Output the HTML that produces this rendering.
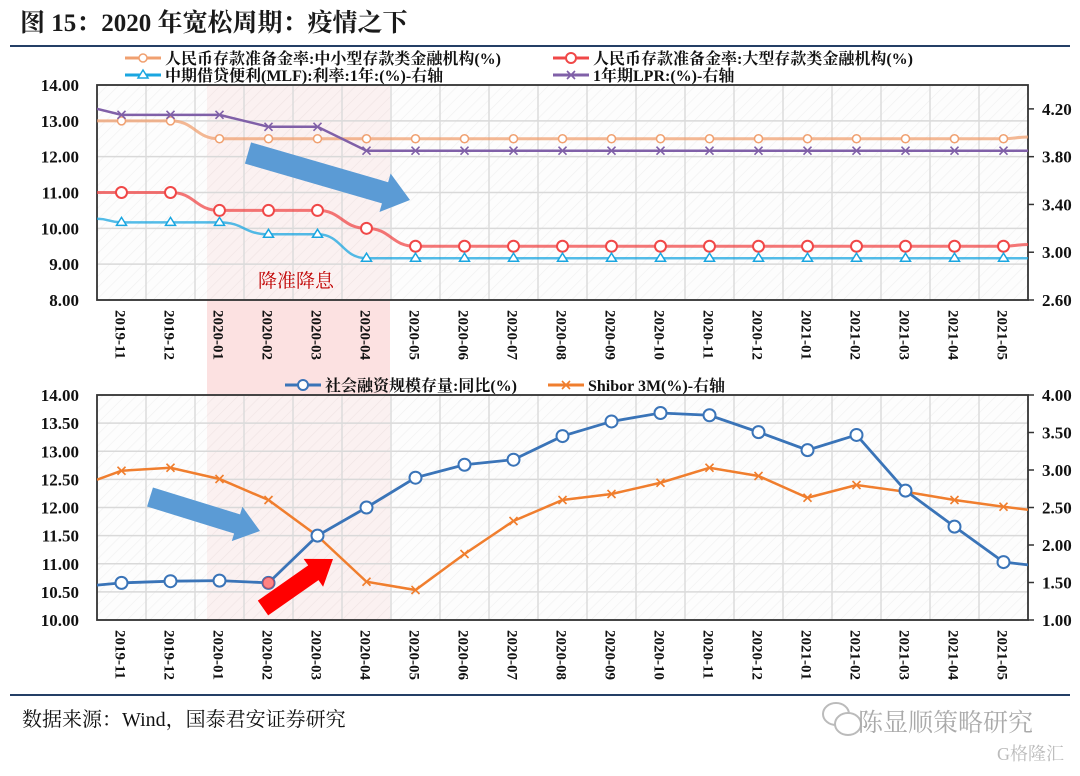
<!DOCTYPE html>
<html><head><meta charset="utf-8"><style>
body{margin:0;background:#fff;width:1080px;height:771px;overflow:hidden;font-family:"Liberation Serif","Noto Serif CJK SC",serif;}
svg text{font-family:"Liberation Serif","Noto Serif CJK SC",serif;}
</style></head><body>
<svg id="s" width="1080" height="771" viewBox="0 0 1080 771">
<defs>
<pattern id="hatch" width="8" height="8" patternUnits="userSpaceOnUse" patternTransform="rotate(45)">
<rect width="8" height="8" fill="#fbfbfb"/><line x1="0" y1="0" x2="0" y2="8" stroke="#e6e6e6" stroke-width="1.2"/>
</pattern>
<clipPath id="c1"><rect x="97" y="85" width="931" height="215"/></clipPath>
<clipPath id="c2"><rect x="97" y="395" width="931" height="225"/></clipPath>
</defs>
<text x="20" y="31" font-size="25" font-weight="bold" fill="#1a1a1a">图 15：2020 年宽松周期：疫情之下</text>
<line x1="10" y1="46" x2="1070" y2="46" stroke="#243f66" stroke-width="2"/>
<line x1="10" y1="695" x2="1070" y2="695" stroke="#243f66" stroke-width="2"/>
<text x="22" y="726" font-size="20" fill="#111">数据来源：Wind，国泰君安证券研究</text>
<g fill="#aaa">
<ellipse cx="836" cy="714" rx="13" ry="11" fill="none" stroke="#bbb" stroke-width="2"/>
<ellipse cx="848" cy="724" rx="13" ry="11" fill="#fff" stroke="#bbb" stroke-width="2"/>
<text x="858" y="731" font-size="25" font-family="Liberation Sans, Noto Sans CJK SC, sans-serif" fill="#aaa">陈显顺策略研究</text>
<text x="997" y="760" font-size="18" font-family="Liberation Sans, Noto Sans CJK SC, sans-serif" fill="#bbb">G格隆汇</text>
</g>
<g id="g1"></g><g id="g2"></g>
</svg>
<script>
const months=["2019-11","2019-12","2020-01","2020-02","2020-03","2020-04","2020-05","2020-06","2020-07","2020-08","2020-09","2020-10","2020-11","2020-12","2021-01","2021-02","2021-03","2021-04","2021-05"];
// top chart
const rrrSmall=[13.0,13.0,12.5,12.5,12.5,12.5,12.5,12.5,12.5,12.5,12.5,12.5,12.5,12.5,12.5,12.5,12.5,12.5,12.5];
const rrrSmallEdge=[13.0,12.55];
const rrrLarge=[11.0,11.0,10.5,10.5,10.5,10.0,9.5,9.5,9.5,9.5,9.5,9.5,9.5,9.5,9.5,9.5,9.5,9.5,9.5];
const rrrLargeEdge=[11.0,9.55];
const mlf=[3.25,3.25,3.25,3.15,3.15,2.95,2.95,2.95,2.95,2.95,2.95,2.95,2.95,2.95,2.95,2.95,2.95,2.95,2.95];
const mlfEdge=[3.28,2.95];
const lpr=[4.15,4.15,4.15,4.05,4.05,3.85,3.85,3.85,3.85,3.85,3.85,3.85,3.85,3.85,3.85,3.85,3.85,3.85,3.85];
const lprEdge=[4.2,3.85];
const topLeftTicks=["8.00","9.00","10.00","11.00","12.00","13.00","14.00"];
const topRightTicks=["2.60","3.00","3.40","3.80","4.20"];
// bottom chart
const tsf=[10.66,10.69,10.7,10.66,11.5,12.0,12.53,12.76,12.85,13.27,13.53,13.68,13.64,13.34,13.02,13.29,12.3,11.66,11.03];
const tsfEdge=[10.62,10.98];
const shibor=[2.99,3.03,2.88,2.6,2.12,1.51,1.40,1.88,2.32,2.6,2.68,2.83,3.03,2.92,2.63,2.8,2.71,2.6,2.51];
const shiborEdge=[2.87,2.47];
const botLeftTicks=["10.00","10.50","11.00","11.50","12.00","12.50","13.00","13.50","14.00"];
const botRightTicks=["1.00","1.50","2.00","2.50","3.00","3.50","4.00"];

const NS="http://www.w3.org/2000/svg";
function mk(p,t,a){const e=document.createElementNS(NS,t);for(const k in a)e.setAttribute(k,a[k]);p.appendChild(e);return e;}
const L=97,R=1028,bw=(R-L)/months.length;
const xc=i=>L+bw*(i+0.5);
const svg=document.getElementById('s');

// shaded period
const sh=mk(svg,'rect',{x:207,y:85,width:183,height:535,fill:'#f9c9c9','fill-opacity':0.55});


svg.insertBefore(sh,document.getElementById('g1'));

function panel(g,top,bot,lmin,lmax,lt,rmin,rmax,rt,clip){
  const yl=v=>bot-(v-lmin)/(lmax-lmin)*(bot-top);
  const yr=v=>bot-(v-rmin)/(rmax-rmin)*(bot-top);
  const bg=mk(g,'rect',{x:L,y:top,width:R-L,height:bot-top,fill:'url(#hatch)','fill-opacity':0.6});
  
  
  lt.forEach(t=>{const y=yl(+t);
    mk(g,'line',{x1:L,x2:R,y1:y,y2:y,stroke:'#d9d9d9','stroke-width':1.5});
    const tx=mk(g,'text',{x:L-18,y:y+6,'text-anchor':'end','font-size':17,'font-weight':'bold',fill:'#111'});tx.textContent=t;
    
    });
  rt.forEach(t=>{const y=yr(+t);
    mk(g,'line',{x1:R,x2:R+6,y1:y,y2:y,stroke:'#333','stroke-width':1.5});
    const tx=mk(g,'text',{x:R+14,y:y+6,'font-size':17,'font-weight':'bold',fill:'#111'});tx.textContent=t;
    
    });
  for(let i=1;i<months.length;i++){const x=L+bw*i;mk(g,'line',{x1:x,x2:x,y1:top,y2:bot,stroke:'#dcdcdc','stroke-width':1.5});}
  months.forEach((m,i)=>{const x=xc(i);
    const tx=mk(g,'text',{x:0,y:0,transform:`translate(${x-6},${bot+10}) rotate(90)`,'font-size':15,'font-weight':'bold',fill:'#111'});tx.textContent=m;
    
    });
  const fr=mk(g,'rect',{x:L,y:top,width:R-L,height:bot-top,fill:'none',stroke:'#333','stroke-width':1.8});
  
  
  return {yl,yr};
}
function series(g,vals,edge,yf,color,marker,clip,name,w,dbl){
  const pts=[[L,yf(edge[0])]].concat(vals.map((v,i)=>[xc(i),yf(v)])).concat([[R,yf(edge[1])]]);
  let d='M'+pts[0][0]+','+pts[0][1];
  for(let i=1;i<pts.length;i++){const [x0,y0]=pts[i-1],[x1,y1]=pts[i];const mx=(x0+x1)/2;
    d+=dbl?` C${mx},${y0} ${mx},${y1} ${x1},${y1}`:` L${x1},${y1}`;}
  const sg=mk(g,'g',{'clip-path':`url(#${clip})`});
  
  
  mk(sg,'path',{d,fill:'none',stroke:color,'stroke-width':w,'stroke-opacity':dbl?0.75:1});
  vals.forEach((v,i)=>{const x=xc(i),y=yf(v);let m;
    if(marker==='circle') m=mk(sg,'circle',{cx:x,cy:y,r:name.startsWith('tsf')?6:5.5,fill:'#fff',stroke:color,'stroke-width':2});
    else if(marker==='diamond') m=mk(sg,'circle',{cx:x,cy:y,r:4,fill:'#fff',stroke:color,'stroke-width':1.5});
    else if(marker==='tri') m=mk(sg,'path',{d:`M${x},${y-5} L${x+5},${y+3} L${x-5},${y+3} Z`,fill:'#fff',stroke:color,'stroke-width':1.5});
    else m=mk(sg,'path',{d:`M${x-4},${y-4} L${x+4},${y+4} M${x-4},${y+4} L${x+4},${y-4}`,stroke:color,'stroke-width':1.6});
    
    });
}
function legend(g,x,y,color,marker,label){
  const lg=mk(g,'g',{});
  
  
  mk(lg,'line',{x1:x,x2:x+36,y1:y,y2:y,stroke:color,'stroke-width':3});
  const cx=x+18;
  if(marker==='circle')mk(lg,'circle',{cx,cy:y,r:5,fill:'#fff',stroke:color,'stroke-width':2});
  else if(marker==='diamond')mk(lg,'circle',{cx,cy:y,r:4,fill:'#fff',stroke:color,'stroke-width':1.5});
  else if(marker==='tri')mk(lg,'path',{d:`M${cx},${y-5} L${cx+5},${y+3} L${cx-5},${y+3} Z`,fill:'#fff',stroke:color,'stroke-width':1.5});
  else mk(lg,'path',{d:`M${cx-4},${y-4} L${cx+4},${y+4} M${cx-4},${y+4} L${cx+4},${y-4}`,stroke:color,'stroke-width':1.6});
  const t=mk(lg,'text',{x:x+40,y:y+6,'font-size':16,'font-weight':'bold',fill:'#111'});t.textContent=label;
}
const g1=document.getElementById('g1'),g2=document.getElementById('g2');
const a=panel(g1,85,300,8,14,topLeftTicks,2.6,4.4,topRightTicks,'c1');
series(g1,rrrSmall,rrrSmallEdge,a.yl,'#f0a070','diamond','c1','rrr-small-series',3,true);
series(g1,rrrLarge,rrrLargeEdge,a.yl,'#f04848','circle','c1','rrr-large-series',3,true);
series(g1,mlf,mlfEdge,a.yr,'#1aa6e0','tri','c1','mlf-series',2.5,true);
series(g1,lpr,lprEdge,a.yr,'#8060a8','x','c1','lpr-series',2.5,false);
legend(g1,125,58,'#f0a070','diamond','人民币存款准备金率:中小型存款类金融机构(%)');
legend(g1,553,58,'#f04848','circle','人民币存款准备金率:大型存款类金融机构(%)');
legend(g1,125,75,'#1aa6e0','tri','中期借贷便利(MLF):利率:1年:(%)-右轴');
legend(g1,553,75,'#8060a8','x','1年期LPR:(%)-右轴');
const lab=mk(g1,'text',{x:258,y:287,'font-size':19,fill:'#c00000'});lab.textContent='降准降息';



const b=panel(g2,395,620,10,14,botLeftTicks,1,4,botRightTicks,'c2');
series(g2,shibor,shiborEdge,b.yr,'#f07e2e','x','c2','shibor-series',2.5,false);
series(g2,tsf,tsfEdge,b.yl,'#3a74b8','circle','c2','tsf-series',2.8,false);
const hl=mk(g2,'circle',{cx:xc(3),cy:b.yl(tsf[3]),r:6,fill:'#ff3030','fill-opacity':0.6});


legend(g2,285,385,'#3a74b8','circle','社会融资规模存量:同比(%)');
legend(g2,548,385,'#f07e2e','x','Shibor 3M(%)-右轴');

function arrow(x1,y1,x2,y2,w,hw,hl,color,name){
  const dx=x2-x1,dy=y2-y1,len=Math.hypot(dx,dy),ux=dx/len,uy=dy/len,px=-uy,py=ux;
  const bx=x2-ux*hl,by=y2-uy*hl;
  const p=[[x1+px*w/2,y1+py*w/2],[bx+px*w/2,by+py*w/2],[bx+px*hw/2,by+py*hw/2],[x2,y2],[bx-px*hw/2,by-py*hw/2],[bx-px*w/2,by-py*w/2],[x1-px*w/2,y1-py*w/2]];
  const e=mk(svg,'polygon',{points:p.map(q=>q.join(',')).join(' '),fill:color});
  
  
}
arrow(248,153,410,200,22,40,26,'#5b9bd5','down-arrow-top');
arrow(150,497,260,531,20,36,24,'#5b9bd5','down-arrow-bottom');
arrow(263,608,333,559,18,34,24,'#ff0000','up-arrow-bottom');
</script>
</body></html>
